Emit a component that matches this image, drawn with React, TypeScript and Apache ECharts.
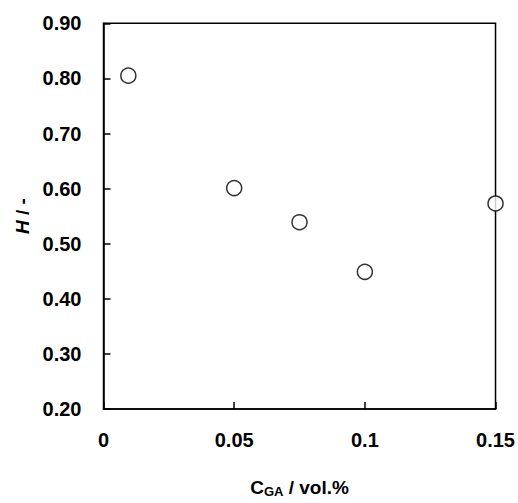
import React, { useEffect, useRef } from "react";
import * as echarts from "echarts";

const xValues = [0.0095, 0.05, 0.075, 0.1, 0.15];
const yValues = [0.805, 0.601, 0.539, 0.449, 0.573];
const xTicks = [0, 0.05, 0.1, 0.15];
const yTicks = [0.2, 0.3, 0.4, 0.5, 0.6, 0.7, 0.8, 0.9];

const FONT = "'Liberation Sans', Arial, sans-serif";

export default function App() {
  const ref = useRef<HTMLDivElement>(null);
  useEffect(() => {
    if (!ref.current) return;
    const chart = echarts.init(ref.current, null, { renderer: "svg" });
    chart.setOption({
      animation: false,
      backgroundColor: "#fff",
      grid: {
        left: 103.5,
        right: 21.3,
        top: 23.3,
        bottom: 87.3,
        show: true,
        borderColor: "#000",
        borderWidth: 1.5,
        containLabel: false,
      },
      xAxis: {
        type: "value",
        min: xTicks[0],
        max: xTicks[xTicks.length - 1],
        interval: 0.05,
        axisLine: { show: true, lineStyle: { color: "#000", width: 1.5 } },
        axisTick: { show: true, inside: true, length: 7, lineStyle: { color: "#000", width: 1.5 } },
        splitLine: { show: false },
        axisLabel: {
          color: "#000",
          fontFamily: FONT,
          fontWeight: "bold",
          fontSize: 20,
          margin: 21,
          formatter: (v: number) => String(Math.round(v * 100) / 100),
        },
        name: "{a|C}{b|GA}{a| / vol.%}",
        nameLocation: "middle",
        nameGap: 66,
        nameTextStyle: {
          rich: {
            a: { fontFamily: FONT, fontWeight: "bold", fontSize: 19, color: "#000", lineHeight: 24 },
            b: { fontFamily: FONT, fontWeight: "bold", fontSize: 13, color: "#000", padding: [9, 0, 0, 0], lineHeight: 24 },
          },
        },
      },
      yAxis: {
        type: "value",
        min: yTicks[0],
        max: yTicks[yTicks.length - 1],
        interval: 0.1,
        axisLine: { show: true, lineStyle: { color: "#000", width: 1.5 } },
        axisTick: { show: true, inside: true, length: 7, lineStyle: { color: "#000", width: 1.5 } },
        splitLine: { show: false },
        axisLabel: {
          color: "#000",
          fontFamily: FONT,
          fontWeight: "bold",
          fontSize: 20,
          margin: 22,
          formatter: (v: number) => v.toFixed(2),
        },
        name: "{i|H}{n| / -}",
        nameLocation: "middle",
        nameRotate: 90,
        nameGap: 70,
        nameTextStyle: {
          rich: {
            i: { fontFamily: FONT, fontWeight: "bold", fontStyle: "italic", fontSize: 19, color: "#000" },
            n: { fontFamily: FONT, fontWeight: "bold", fontSize: 19, color: "#000" },
          },
        },
      },
      series: [
        {
          type: "scatter",
          data: xValues.map((x, i) => [x, yValues[i]]),
          symbol: "circle",
          symbolSize: 15,
          itemStyle: { color: "#fff", borderColor: "#000", borderWidth: 1.5 },
          clip: false,
          z: 5,
        },
      ],
    });
    return () => chart.dispose();
  }, []);
  return <div ref={ref} style={{ width: 518, height: 503, position: "absolute", left: 0, top: 0 }} />;
}
